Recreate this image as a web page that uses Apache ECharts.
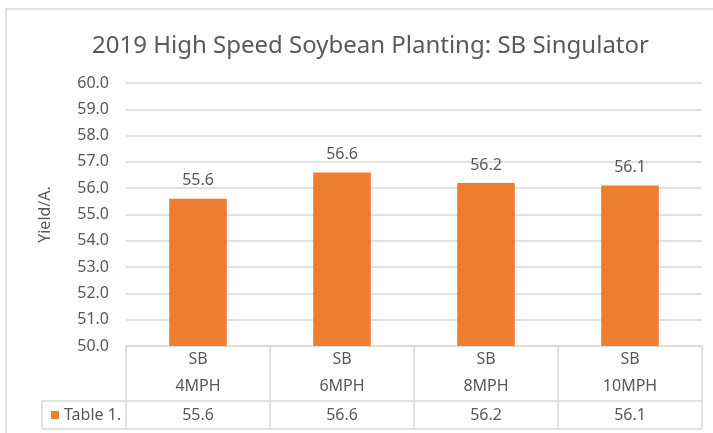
<!DOCTYPE html>
<html>
<head>
<meta charset="utf-8">
<script src="https://cdn.jsdelivr.net/npm/echarts@6/dist/echarts.min.js"></script>
<style>
  html, body { margin: 0; padding: 0; background: #fff; }
  #chart { width: 713px; height: 433px; }
</style>
</head>
<body>
<div id="chart"></div>
<script>
// data
const categories = ['SB\n4MPH', 'SB\n6MPH', 'SB\n8MPH', 'SB\n10MPH'];
const yields = [55.6, 56.6, 56.2, 56.1];
const seriesName = 'Table 1.';

const textColor = '#595959';
const lineColor = '#d9d9d9';
const orange = '#ED7D31';
const font = 'Noto Sans';

// plot box and data table rows
const plotLeft = 126, plotRight = 702, plotTop = 83, plotBottom = 346;
const rowMid = 401, rowBottom = 429, tableLeft = 42;

const chart = echarts.init(document.getElementById('chart'));
const option = {
  animation: false,
  textStyle: { fontFamily: font },
  title: {
    text: '2019 High Speed Soybean Planting: SB Singulator',
    left: 87,
    top: 29,
    textStyle: { color: textColor, fontSize: 24, fontWeight: 'normal', fontFamily: font }
  },
  legend: {
    data: [seriesName],
    left: tableLeft + 4,
    top: 402,
    itemWidth: 8,
    itemHeight: 8,
    icon: 'rect',
    textStyle: { color: textColor, fontSize: 16, fontFamily: font }
  },
  grid: {
    left: plotLeft,
    right: 713 - plotRight,
    top: plotTop,
    bottom: 433 - plotBottom,
    containLabel: false
  },
  xAxis: [{
    type: 'category',
    data: categories,
    axisLine: { show: true, lineStyle: { color: lineColor, width: 1.5 } },
    axisTick: { show: true, length: rowMid - plotBottom, lineStyle: { color: lineColor, width: 1.5 } },
    axisLabel: { color: textColor, fontSize: 16, lineHeight: 27, margin: 0, fontFamily: font }
  }, {
    type: 'category',
    data: categories,
    position: 'bottom',
    offset: rowMid - plotBottom,
    axisLine: { show: true, lineStyle: { color: lineColor, width: 1.5 } },
    axisTick: { show: true, length: rowBottom - rowMid, lineStyle: { color: lineColor, width: 1.5 } },
    axisLabel: {
      color: textColor, fontSize: 16, lineHeight: 28, margin: 0, fontFamily: font,
      formatter: (v, i) => yields[i].toFixed(1)
    }
  }],
  yAxis: {
    type: 'value',
    min: 50,
    max: 60,
    interval: 1,
    name: 'Yield/A.',
    nameLocation: 'middle',
    nameRotate: 90,
    nameGap: 73,
    nameTextStyle: { color: textColor, fontSize: 16, fontFamily: font },
    axisLine: { show: false },
    axisTick: { show: false },
    axisLabel: { color: textColor, fontSize: 16, margin: 17, formatter: v => v.toFixed(1) },
    splitLine: { lineStyle: { color: lineColor, width: 1.5 } }
  },
  series: [{
    name: seriesName,
    type: 'bar',
    data: yields,
    barWidth: '40%',
    itemStyle: { color: orange },
    label: {
      show: true,
      position: 'top',
      distance: 10,
      color: textColor,
      fontSize: 16,
      formatter: p => p.value.toFixed(1)
    }
  }],
  graphic: [
    // outer chart border
    { type: 'rect', shape: { x: 6, y: 9, width: 760, height: 480 }, style: { fill: 'none', stroke: lineColor, lineWidth: 1.5 }, silent: true },
    // legend cell of the data table
    { type: 'line', shape: { x1: tableLeft, y1: rowMid, x2: plotLeft, y2: rowMid }, style: { stroke: lineColor, lineWidth: 1.5 } },
    { type: 'line', shape: { x1: tableLeft, y1: rowBottom, x2: plotRight, y2: rowBottom }, style: { stroke: lineColor, lineWidth: 1.5 } },
    { type: 'line', shape: { x1: tableLeft, y1: rowMid, x2: tableLeft, y2: rowBottom }, style: { stroke: lineColor, lineWidth: 1.5 } }
  ]
};
chart.setOption(option);
</script>
</body>
</html>
